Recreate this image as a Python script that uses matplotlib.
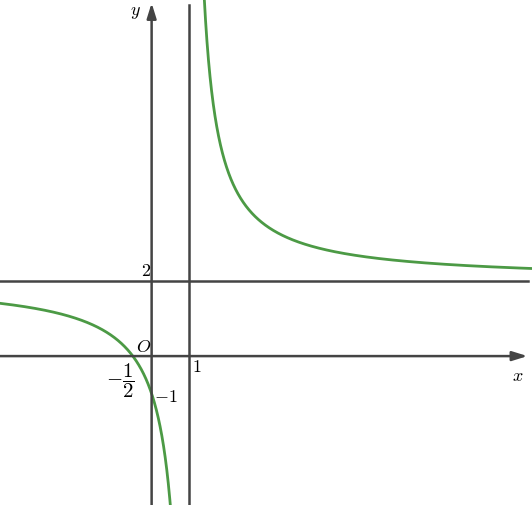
import numpy as np
import matplotlib
matplotlib.use('Agg')
import matplotlib.pyplot as plt

plt.rcParams['mathtext.fontset'] = 'cm'

# y = (2x + 1) / (x - 1)
num_coef = [2.0, 1.0]
den_coef = [1.0, -1.0]
asym_x = 1.0
asym_y = 2.0
x_range = [-4.03, 10.11]
y_range = [-3.96, 9.47]

axis_color = '#444444'
curve_color = '#4c9a45'

fig = plt.figure(figsize=(5.32, 5.05), dpi=100)
ax = fig.add_axes([0, 0, 1, 1])
ax.set_xlim(x_range)
ax.set_ylim(y_range)
ax.axis('off')

# axes with arrows
ax.annotate('', xy=(x_range[1] - 0.12, 0), xytext=(x_range[0], 0),
            arrowprops=dict(arrowstyle='-|>,head_length=0.9,head_width=0.28',
                            color=axis_color, lw=1.8, shrinkA=0, shrinkB=0))
ax.annotate('', xy=(0, y_range[1] - 0.08), xytext=(0, y_range[0]),
            arrowprops=dict(arrowstyle='-|>,head_length=0.9,head_width=0.28',
                            color=axis_color, lw=1.8, shrinkA=0, shrinkB=0))

# asymptotes
ax.plot([asym_x, asym_x], [y_range[0], y_range[1] - 0.13], color=axis_color, lw=1.8)
ax.plot([x_range[0], x_range[1] - 0.1], [asym_y, asym_y], color=axis_color, lw=1.8)

# curve
def f(x):
    return (num_coef[0] * x + num_coef[1]) / (den_coef[0] * x + den_coef[1])

xl = np.linspace(x_range[0], asym_x - 1e-3, 2000)
yl = f(xl)
yl[yl < y_range[0] - 1] = np.nan
ax.plot(xl, yl, color=curve_color, lw=2)

xr = np.linspace(asym_x + 1e-3, x_range[1], 2000)
yr = f(xr)
yr[yr > y_range[1] + 1] = np.nan
ax.plot(xr, yr, color=curve_color, lw=2)

# labels
fs = 13
ax.text(-0.42, 9.15, r'$y$', fontsize=fs, ha='center', va='center')
ax.text(9.72, -0.52, r'$x$', fontsize=fs, ha='center', va='center')
ax.text(-0.2, 0.25, r'$O$', fontsize=fs, ha='center', va='center')
ax.text(-0.15, 2.25, r'$2$', fontsize=fs, ha='center', va='center')
ax.text(1.2, -0.3, r'$1$', fontsize=fs, ha='center', va='center')
ax.text(-0.82, -0.66, r'$-\dfrac{1}{2}$', fontsize=15, ha='center', va='center')
ax.text(0.38, -1.1, r'$-1$', fontsize=fs, ha='center', va='center')

fig.savefig('out.png', dpi=100)
